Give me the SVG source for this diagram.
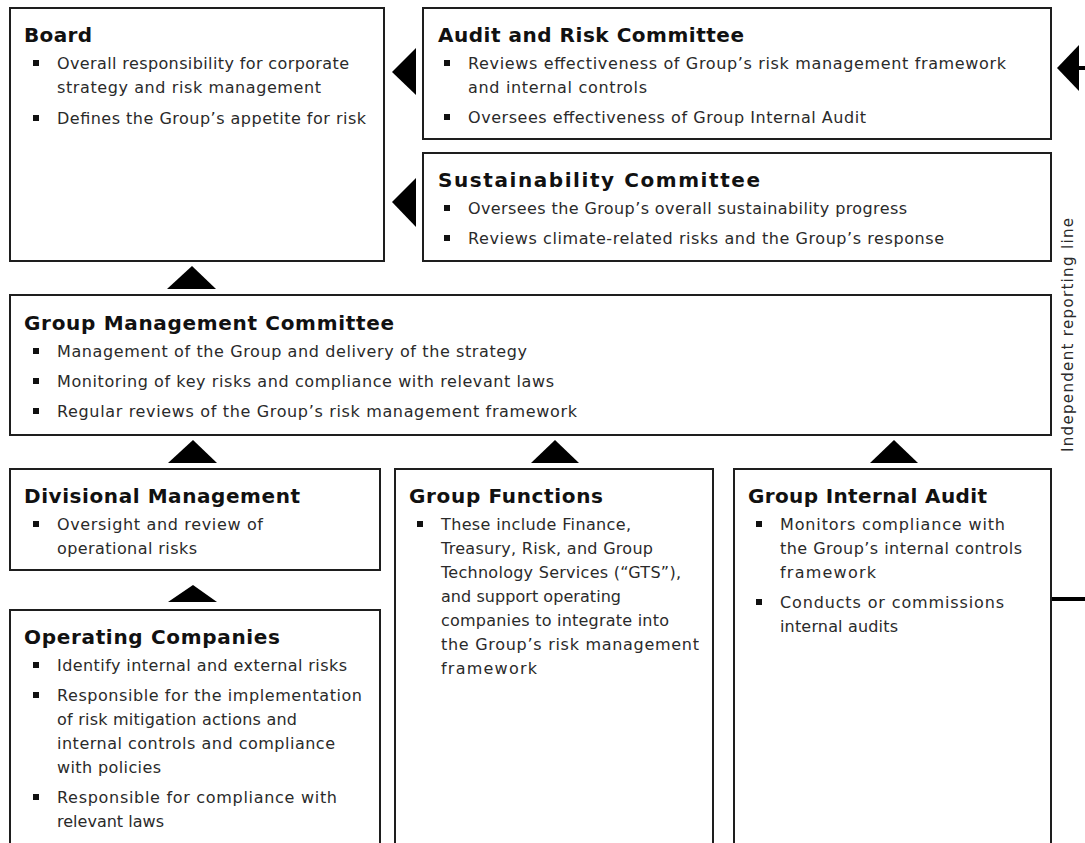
<svg xmlns="http://www.w3.org/2000/svg" width="1085" height="843" viewBox="0 0 1085 843">
<style>
.box{fill:#fff;stroke:#1e1e1e;stroke-width:2}
.h{font-family:"DejaVu Sans","Liberation Sans",sans-serif;font-weight:700;font-size:20px;fill:#111}
.t{font-family:"DejaVu Sans","Liberation Sans",sans-serif;font-size:16px;fill:#2a2a2a}
.v{font-family:"DejaVu Sans","Liberation Sans",sans-serif;font-size:15px;fill:#2a2a2a}
.bu{fill:#111}
.ar{fill:#000}
.ln{stroke:#000;stroke-width:4;fill:none}
</style>
<rect width="1085" height="843" fill="#fff"/>
<g id="board">
<rect class="box" x="10" y="8" width="374" height="253"/>
<text class="h" x="24" y="42" textLength="68">Board</text>
<rect class="bu" x="33" y="60" width="6" height="6"/>
<text class="t" x="57" y="69" textLength="292">Overall responsibility for corporate</text>
<text class="t" x="57" y="93" textLength="264">strategy and risk management</text>
<rect class="bu" x="33" y="115" width="6" height="6"/>
<text class="t" x="57" y="124" textLength="309">Defines the Group’s appetite for risk</text>
</g>
<g id="audit">
<rect class="box" x="423" y="8" width="628" height="131"/>
<text class="h" x="438" y="42" textLength="306">Audit and Risk Committee</text>
<rect class="bu" x="444" y="60" width="6" height="6"/>
<text class="t" x="468" y="69" textLength="538">Reviews effectiveness of Group’s risk management framework</text>
<text class="t" x="468" y="93" textLength="179">and internal controls</text>
<rect class="bu" x="444" y="114" width="6" height="6"/>
<text class="t" x="468" y="123" textLength="398">Oversees effectiveness of Group Internal Audit</text>
</g>
<g id="sustainability">
<rect class="box" x="423" y="153" width="628" height="108"/>
<text class="h" x="438" y="187" textLength="322">Sustainability Committee</text>
<rect class="bu" x="444" y="205" width="6" height="6"/>
<text class="t" x="468" y="214" textLength="439">Oversees the Group’s overall sustainability progress</text>
<rect class="bu" x="444" y="235" width="6" height="6"/>
<text class="t" x="468" y="244" textLength="476">Reviews climate-related risks and the Group’s response</text>
</g>
<g id="gmc">
<rect class="box" x="10" y="295" width="1041" height="140"/>
<text class="h" x="24" y="330" textLength="370">Group Management Committee</text>
<rect class="bu" x="33" y="348" width="6" height="6"/>
<text class="t" x="57" y="357" textLength="470">Management of the Group and delivery of the strategy</text>
<rect class="bu" x="33" y="378" width="6" height="6"/>
<text class="t" x="57" y="387" textLength="497">Monitoring of key risks and compliance with relevant laws</text>
<rect class="bu" x="33" y="408" width="6" height="6"/>
<text class="t" x="57" y="417" textLength="520">Regular reviews of the Group’s risk management framework</text>
</g>
<g id="divisional">
<rect class="box" x="10" y="469" width="370" height="101"/>
<text class="h" x="24" y="503" textLength="276">Divisional Management</text>
<rect class="bu" x="33" y="521" width="6" height="6"/>
<text class="t" x="57" y="530" textLength="206">Oversight and review of</text>
<text class="t" x="57" y="554" textLength="140">operational risks</text>
</g>
<g id="functions">
<rect class="box" x="395" y="469" width="318" height="390"/>
<text class="h" x="409" y="503" textLength="194">Group Functions</text>
<rect class="bu" x="417" y="521" width="6" height="6"/>
<text class="t" x="441" y="530" textLength="190">These include Finance,</text>
<text class="t" x="441" y="554" textLength="212">Treasury, Risk, and Group</text>
<text class="t" x="441" y="578" textLength="240">Technology Services (“GTS”),</text>
<text class="t" x="441" y="602" textLength="180">and support operating</text>
<text class="t" x="441" y="626" textLength="228">companies to integrate into</text>
<text class="t" x="441" y="650" textLength="258">the Group’s risk management</text>
<text class="t" x="441" y="674" textLength="96">framework</text>
</g>
<g id="internal-audit">
<rect class="box" x="734" y="469" width="317" height="390"/>
<text class="h" x="748" y="503" textLength="239">Group Internal Audit</text>
<rect class="bu" x="756" y="521" width="6" height="6"/>
<text class="t" x="780" y="530" textLength="225">Monitors compliance with</text>
<text class="t" x="780" y="554" textLength="242">the Group’s internal controls</text>
<text class="t" x="780" y="578" textLength="96">framework</text>
<rect class="bu" x="756" y="599" width="6" height="6"/>
<text class="t" x="780" y="608" textLength="224">Conducts or commissions</text>
<text class="t" x="780" y="632" textLength="118">internal audits</text>
</g>
<g id="operating">
<rect class="box" x="10" y="610" width="370" height="249"/>
<text class="h" x="24" y="644" textLength="256">Operating Companies</text>
<rect class="bu" x="33" y="662" width="6" height="6"/>
<text class="t" x="57" y="671" textLength="290">Identify internal and external risks</text>
<rect class="bu" x="33" y="692" width="6" height="6"/>
<text class="t" x="57" y="701" textLength="305">Responsible for the implementation</text>
<text class="t" x="57" y="725" textLength="240">of risk mitigation actions and</text>
<text class="t" x="57" y="749" textLength="278">internal controls and compliance</text>
<text class="t" x="57" y="773" textLength="104">with policies</text>
<rect class="bu" x="33" y="794" width="6" height="6"/>
<text class="t" x="57" y="803" textLength="280">Responsible for compliance with</text>
<text class="t" x="57" y="827" textLength="107">relevant laws</text>
</g>
<g id="connectors">
<polygon class="ar" points="392,72 416,48 416,95"/>
<polygon class="ar" points="392,202 416,178 416,227"/>
<polygon class="ar" points="192,266 167,289 216,289"/>
<polygon class="ar" points="193,440 168,463 217,463"/>
<polygon class="ar" points="555,440 531,463 579,463"/>
<polygon class="ar" points="894,440 870,463 918,463"/>
<polygon class="ar" points="193,585 168,602 217,602"/>
<polygon class="ar" points="1057,68 1079,45 1079,91"/>
<line class="ln" x1="1078" y1="68" x2="1085" y2="68"/>
<line class="ln" x1="1052" y1="599" x2="1085" y2="599"/>
</g>
<g id="reporting-label">
<text class="v" transform="translate(1073,335) rotate(-90)" text-anchor="middle" textLength="234">Independent reporting line</text>
</g>
</svg>
